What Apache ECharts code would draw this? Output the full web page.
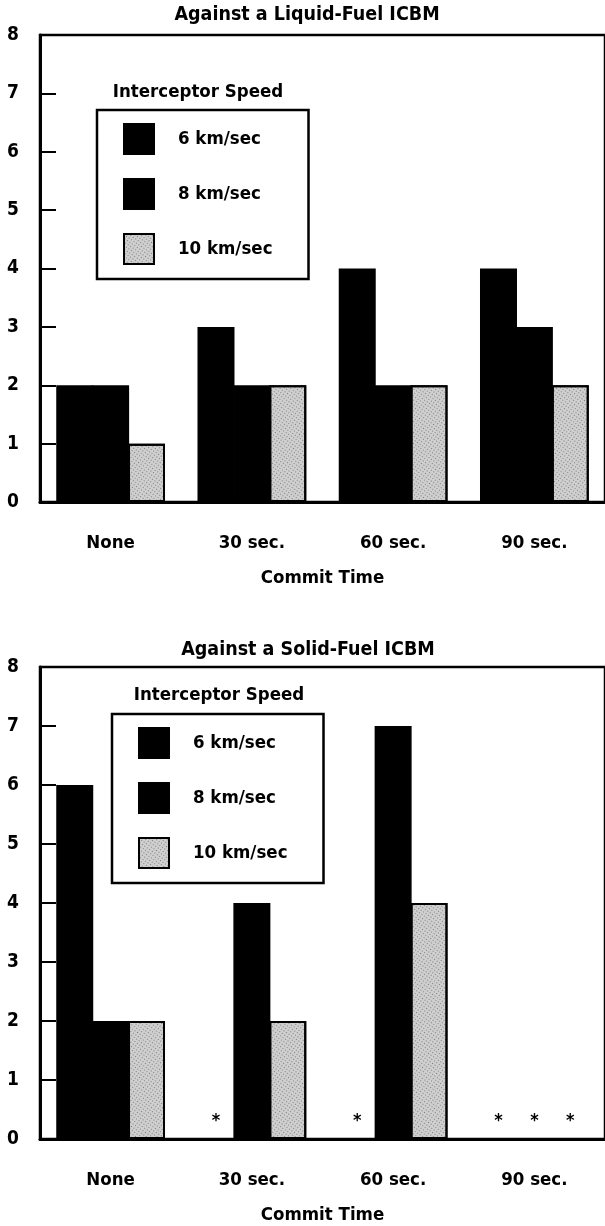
<!DOCTYPE html>
<html>
<head>
<meta charset="utf-8">
<script src="https://cdn.jsdelivr.net/npm/echarts@6/dist/echarts.min.js"></script>
<style>html,body{margin:0;padding:0;background:#fff}#c{width:605px;height:1226px}</style>
</head>
<body>
<div id="c"></div>
<script>
const categories = ['None', '30 sec.', '60 sec.', '90 sec.'];
const speeds = ['6 km/sec', '8 km/sec', '10 km/sec'];
const yTicks = [0, 1, 2, 3, 4, 5, 6, 7, 8];
// Against a Liquid-Fuel ICBM
const liquid6 = [2, 3, 4, 4];
const liquid8 = [2, 2, 2, 3];
const liquid10 = [1, 2, 2, 2];
// Against a Solid-Fuel ICBM (null = shown as *)
const solid6 = [6, null, null, null];
const solid8 = [2, 4, 7, null];
const solid10 = [2, 2, 4, null];

const FONT = '"DejaVu Sans Condensed", "Liberation Sans Narrow", sans-serif';
const chart = echarts.init(document.getElementById('c'), null, {renderer: 'canvas'});

const grayStyle = {
  color: '#cfcfcf',
  borderColor: '#000',
  borderWidth: 2,
  decal: {symbol: 'rect', symbolSize: 1, color: 'rgba(0,0,0,0.4)', dashArrayX: [1, 2], dashArrayY: [1, 2], rotation: 0.6}
};
const blackStyle = {color: '#000', borderColor: '#000', borderWidth: 1.5};

function toData(arr) {
  return arr.map(v => v === null
    ? {value: 0, label: {show: true, formatter: '*', position: 'top', distance: 8, color: '#000', fontSize: 18, fontWeight: 'bold', fontFamily: FONT}}
    : v);
}

function makeSeries(idx, a6, a8, a10) {
  return [
    {name: speeds[0], type: 'bar', xAxisIndex: idx, yAxisIndex: idx, data: toData(a6), itemStyle: blackStyle, barGap: '-3%', barCategoryGap: '23%'},
    {name: speeds[1], type: 'bar', xAxisIndex: idx, yAxisIndex: idx, data: toData(a8), itemStyle: blackStyle, barGap: '-3%', barCategoryGap: '23%'},
    {name: speeds[2], type: 'bar', xAxisIndex: idx, yAxisIndex: idx, data: toData(a10), itemStyle: grayStyle, barGap: '-3%', barCategoryGap: '23%'}
  ];
}

function xAxis(idx) {
  return {
    type: 'category', gridIndex: idx, data: categories,
    axisLine: {lineStyle: {color: '#000', width: 3}},
    axisTick: {inside: true, length: 14, lineStyle: {color: '#000', width: 2}},
    axisLabel: {color: '#000', fontSize: 18.5, fontWeight: 'bold', fontFamily: FONT, margin: 32},
    name: 'Commit Time', nameLocation: 'middle', nameGap: 67,
    nameTextStyle: {color: '#000', fontSize: 18.5, fontWeight: 'bold', fontFamily: FONT}
  };
}
function yAxis(idx) {
  return {
    type: 'value', gridIndex: idx, min: yTicks[0], max: yTicks[yTicks.length - 1], interval: 1,
    axisLine: {show: true, lineStyle: {color: '#000', width: 3}},
    axisTick: {show: true, inside: true, length: 16, lineStyle: {color: '#000', width: 2}},
    splitLine: {show: false},
    axisLabel: {color: '#000', fontSize: 19, fontWeight: 'bold', fontFamily: FONT, margin: 21}
  };
}
function legend(left, top) {
  return {
    left: left, top: top, orient: 'vertical', data: speeds,
    itemWidth: 30, itemHeight: 30, itemGap: 23, icon: 'rect',
    borderColor: '#000', borderWidth: 2.5, padding: [13, 36, 14, 26],
    selectedMode: false,
    textStyle: {color: '#000', fontSize: 18.5, fontWeight: 'bold', fontFamily: FONT, padding: [0, 0, 0, 19]}
  };
}
const tStyle = {color: '#000', fontSize: 18.5, fontWeight: 'bold', fontFamily: FONT};
const hStyle = {color: '#000', fontSize: 19.5, fontWeight: 'bold', fontFamily: FONT};

chart.setOption({
  animation: false,
  backgroundColor: '#fff',
  title: [
    {text: 'Against a Liquid-Fuel ICBM', left: 307, top: 5, textAlign: 'center', padding: 0, textStyle: hStyle},
    {text: 'Interceptor Speed', left: 198, top: 83, textAlign: 'center', padding: 0, textStyle: tStyle},
    {text: 'Against a Solid-Fuel ICBM', left: 308, top: 640, textAlign: 'center', padding: 0, textStyle: hStyle},
    {text: 'Interceptor Speed', left: 219, top: 686, textAlign: 'center', padding: 0, textStyle: tStyle}
  ],
  legend: [legend(97, 110), legend(112, 714)],
  grid: [
    {left: 40, top: 35, width: 570, height: 467, show: true, borderColor: '#000', borderWidth: 2.5, backgroundColor: '#fff'},
    {left: 40, top: 667, width: 570, height: 474, show: true, borderColor: '#000', borderWidth: 2.5, backgroundColor: '#fff'}
  ],
  xAxis: [xAxis(0), xAxis(1)],
  yAxis: [yAxis(0), yAxis(1)],
  series: [].concat(makeSeries(0, liquid6, liquid8, liquid10), makeSeries(1, solid6, solid8, solid10))
});
</script>
</body>
</html>
